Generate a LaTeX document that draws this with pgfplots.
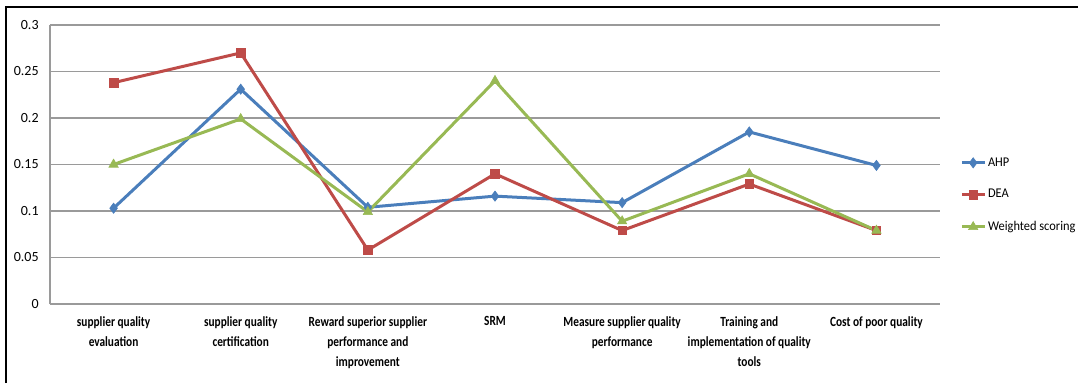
\documentclass[border=0pt]{standalone}
\usepackage{fontspec}
\setmainfont{Carlito}
\newfontfamily\catfont[FakeStretch=0.81]{Carlito}
\newfontfamily\legfont[FakeStretch=0.93]{Carlito}
\usepackage{pgfplots}
\pgfplotsset{compat=1.18}
\definecolor{ahp}{HTML}{4A7EBB}
\definecolor{dea}{HTML}{BE4B48}
\definecolor{ws}{HTML}{98B954}
\definecolor{gridc}{HTML}{9A9A9A}
\begin{document}
\begin{tikzpicture}[x=0.75pt,y=0.75pt]
\path[use as bounding box] (0,0) rectangle (1078,383);
\draw[black, line width=1.5pt] (6,0) -- (6,376) -- (1078,376);
\begin{axis}[
  at={(37.5pt,59.25pt)}, anchor=south west,
  scale only axis, width=667.5pt, height=209.25pt,
  xmin=0, xmax=7, ymin=0, ymax=0.3,
  axis x line*=bottom, axis y line*=left,
  axis line style={-, gridc, line width=1pt},
  ymajorgrids, grid style={gridc, line width=1pt},
  major tick length=0pt,
  ytick={0,0.05,0.1,0.15,0.2,0.25,0.3},
  yticklabels={0,0.05,0.1,0.15,0.2,0.25,0.3},
  yticklabel style={font=\fontsize{10.5}{12}\selectfont, xshift=-5pt},
  xtick={0.5,1.5,2.5,3.5,4.5,5.5,6.5},
  xticklabels={{supplier quality\\evaluation},{supplier quality\\certification},{Reward superior supplier\\performance and\\improvement},{SRM},{Measure supplier quality\\performance},{Training and\\implementation of quality\\tools},{Cost of poor  quality}},
  xticklabel style={align=center, font=\catfont\bfseries\fontsize{10.5}{15}\selectfont, yshift=-6pt},
  legend style={at={(1.018,0.545)}, anchor=north west, draw=none, fill=none,
    font=\legfont\fontsize{10}{12}\selectfont, row sep=12pt, cells={anchor=west},
    nodes={inner xsep=1.5pt}},
  every axis plot/.append style={line width=2.25pt},
]
\addplot[ahp, mark=diamond*, mark size=3.8pt, mark options={solid, line width=0.5pt}] coordinates {
 (0.5,0.103) (1.5,0.231) (2.5,0.104) (3.5,0.116) (4.5,0.109) (5.5,0.185) (6.5,0.149)};
\addlegendentry{AHP}
\addplot[dea, mark=square*, mark size=3.2pt, mark options={solid, line width=0.5pt}] coordinates {
 (0.5,0.238) (1.5,0.270) (2.5,0.058) (3.5,0.140) (4.5,0.079) (5.5,0.129) (6.5,0.079)};
\addlegendentry{DEA}
\addplot[ws, mark=triangle*, mark size=4pt, mark options={solid, line width=0.5pt}] coordinates {
 (0.5,0.150) (1.5,0.199) (2.5,0.099) (3.5,0.240) (4.5,0.089) (5.5,0.140) (6.5,0.079)};
\addlegendentry{Weighted scoring}
\end{axis}
\end{tikzpicture}
\end{document}
